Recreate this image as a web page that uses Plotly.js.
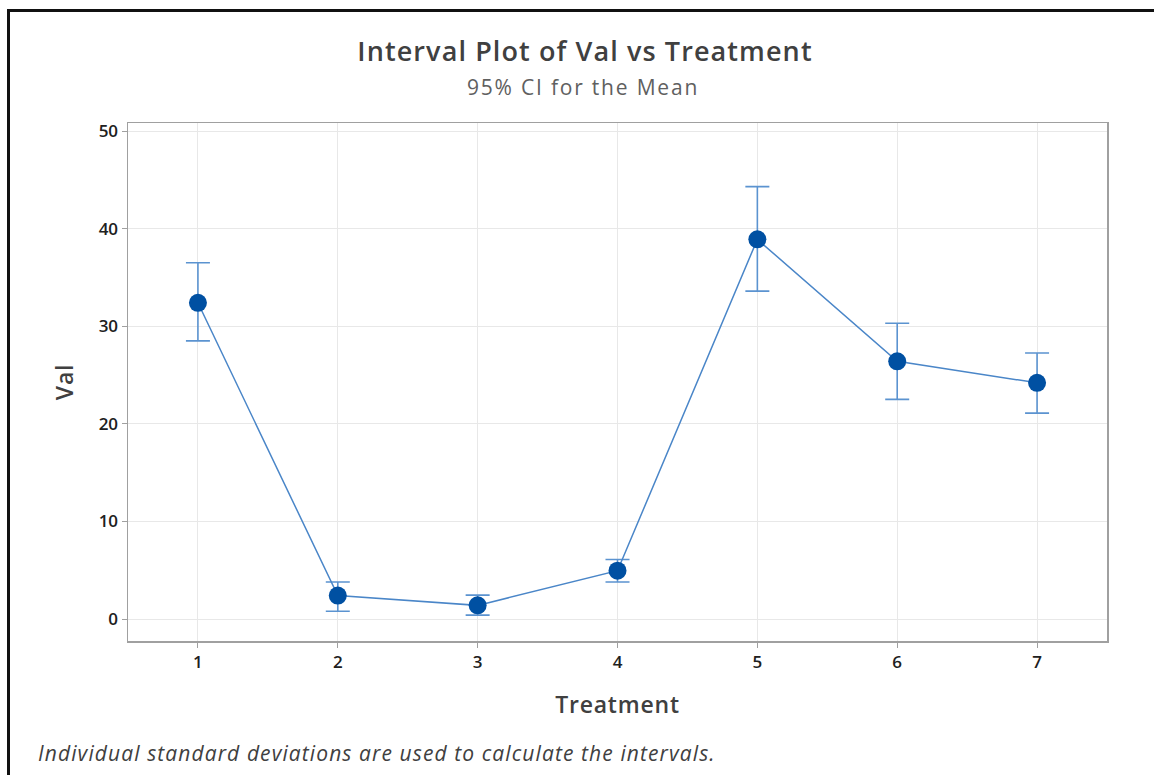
<!DOCTYPE html>
<html>
<head>
<meta charset="utf-8">
<script src="https://cdn.plot.ly/plotly-3.0.1.min.js"></script>
<style>
html,body{margin:0;padding:0;background:#fff;}
#chart{position:absolute;left:0;top:0;width:1154px;height:775px;}
#frame{position:absolute;left:7px;top:9px;width:1160px;height:800px;border-left:3px solid #111;border-top:3px solid #111;pointer-events:none;}
#chart .gtitle{letter-spacing:1.1px;}
#chart g.annotation[data-index="0"] text{letter-spacing:1.8px;}
#chart g.annotation[data-index="1"] text{letter-spacing:1.1px;}
#chart .xtitle{letter-spacing:0.8px;}
#chart .ytitle{letter-spacing:0.8px;}
</style>
</head>
<body>
<div id="chart"></div>
<div id="frame"></div>
<script>
const treatments = [1, 2, 3, 4, 5, 6, 7];
const means = [32.4, 2.4, 1.4, 4.95, 38.9, 26.4, 24.2];
const ciUpper = [36.5, 3.8, 2.45, 6.1, 44.3, 30.3, 27.25];
const ciLower = [28.5, 0.8, 0.4, 3.8, 33.6, 22.5, 21.1];
const yTicks = [0, 10, 20, 30, 40, 50];

const font = '"Open Sans", "Noto Sans", sans-serif';

const trace = {
  x: treatments,
  y: means,
  type: 'scatter',
  mode: 'lines+markers',
  line: {color: '#4a86c8', width: 1.5},
  marker: {color: '#0050a2', size: 18, symbol: 'circle'},
  error_y: {
    type: 'data',
    symmetric: false,
    array: ciUpper.map((u, i) => u - means[i]),
    arrayminus: ciLower.map((l, i) => means[i] - l),
    color: '#5b93d0',
    thickness: 1.6,
    width: 12
  },
  hoverinfo: 'x+y'
};

const layout = {
  width: 1154,
  height: 775,
  margin: {l: 128, r: 47, t: 123, b: 134},
  paper_bgcolor: '#ffffff',
  plot_bgcolor: '#ffffff',
  showlegend: false,
  font: {family: font, color: '#303030'},
  title: {
    text: 'Interval Plot of Val vs Treatment',
    font: {family: font, size: 27, color: '#404040', weight: 600},
    x: 585 / 1154, xanchor: 'center', xref: 'container',
    y: 1 - 52 / 775, yanchor: 'middle', yref: 'container'
  },
  xaxis: {
    range: [0.5, 7.5],
    tickvals: treatments,
    ticktext: treatments.map(String),
    showgrid: true,
    gridcolor: '#e8e8e8',
    gridwidth: 1,
    zeroline: false,
    showline: true,
    linecolor: '#a0a0a0',
    linewidth: 1.5,
    mirror: true,
    ticks: 'outside',
    ticklen: 5,
    tickcolor: '#a0a0a0',
    tickfont: {family: font, size: 17, color: '#202020', weight: 600},
    title: {text: 'Treatment', font: {family: font, size: 23, color: '#404040', weight: 600}, standoff: 25}
  },
  yaxis: {
    range: [-2.25, 50.82],
    tickvals: yTicks,
    ticktext: yTicks.map(String),
    showgrid: true,
    gridcolor: '#e8e8e8',
    gridwidth: 1,
    zeroline: false,
    showline: true,
    linecolor: '#a0a0a0',
    linewidth: 1.5,
    mirror: true,
    ticks: 'outside',
    ticklen: 5,
    tickcolor: '#a0a0a0',
    tickfont: {family: font, size: 17, color: '#202020', weight: 600},
    title: {text: 'Val', font: {family: font, size: 23, color: '#404040', weight: 600}, standoff: 18}
  },
  annotations: [
    {
      text: '95% CI for the Mean',
      xref: 'paper', yref: 'paper',
      x: (583 - 128) / 979, y: (641 - 87) / 518,
      xanchor: 'center', yanchor: 'middle',
      showarrow: false,
      font: {family: font, size: 21, color: '#606060'}
    },
    {
      text: '<i>Individual standard deviations are used to calculate the intervals.</i>',
      xref: 'paper', yref: 'paper',
      x: (36 - 128) / 979, y: (641 - 753) / 518,
      xanchor: 'left', yanchor: 'middle', align: 'left',
      showarrow: false,
      font: {family: font, size: 21, color: '#404040'}
    }
  ]
};

Plotly.newPlot('chart', [trace], layout, {displayModeBar: false, staticPlot: true});
</script>
</body>
</html>
